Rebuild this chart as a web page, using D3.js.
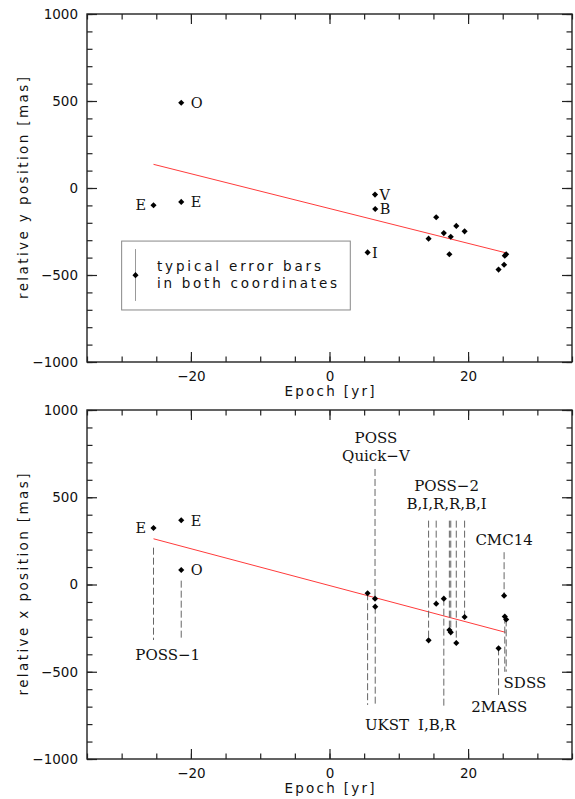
<!DOCTYPE html>
<html>
<head>
<meta charset="utf-8">
<script src="https://cdn.jsdelivr.net/npm/d3@7"></script>
<style>
  body { margin: 0; background: #fff; }
  svg text { font-family: "DejaVu Sans", sans-serif; fill: #111; }
  .lbl { font-family: "DejaVu Serif", serif; }
</style>
</head>
<body>
<div id="chart"></div>
<script>
// ------ DATA ------
// epoch of each observation (yr), shared by both panels
const epochs = [-25.4, -21.4, -21.4, 5.5, 6.57, 6.6, 14.3, 15.4, 16.5, 17.3, 17.5, 18.3, 19.5, 24.4, 25.2, 25.3, 25.5];
// relative y position (mas)
const yPos = [-99, -80, 490, -370, -38, -121, -291, -168, -259, -381, -280, -218, -249, -469, -441, -389, -381];
// relative x position (mas)
const xPos = [324, 368, 83, -50, -81, -127, -320, -110, -81, -261, -274, -335, -186, -366, -64, -184, -200];

// proper motion fit (end points)
const fitEpochs = [-25.4, 25.4];
const fitY = [136, -372];
const fitX = [262, -274];

// point labels: [text, index into epochs, side]
const yPointLabels = [['E', 0, 'left'], ['E', 1, 'right'], ['O', 2, 'right'], ['I', 3, 'near'], ['V', 4, 'near'], ['B', 5, 'near']];
const xPointLabels = [['E', 0, 'left'], ['E', 1, 'right'], ['O', 2, 'right']];

// survey names (bottom panel), anchored in data units
const surveyNames = ['POSS', 'Quick\u2212V', 'POSS\u22122', 'B,I,R,R,B,I', 'CMC14', 'SDSS', '2MASS', 'UKST', 'I,B,R', 'POSS\u22121'];
const surveyEpoch = [6.7, 6.7, 16.9, 16.9, 25.2, 28.2, 24.5, 8.3, 15.5, -23.35];
const surveyMas = [840, 736, 566, 465, 255, -563, -702, -801, -801, -404];

// dashed guide lines: epoch, from mas, to mas
const guideEpoch = [-25.4, -21.4, 6.57, 5.5, 6.6, 14.3, 15.4, 17.3, 17.5, 18.3, 19.5, 16.5, 25.2, 25.3, 25.5, 24.4];
const guideFrom = [211, 22, 662, -50, -127, 366, 366, 366, 366, 366, 366, -81, 185, -184, -200, -366];
const guideTo = [-318, -318, -81, -690, -690, -320, -110, -261, -274, -335, -186, -700, -64, -500, -500, -633];

// axis ticks
const xMajor = [-20, 0, 20];
const xMinor = d3.range(-35, 36, 5);
const yMajor = [-1000, -500, 0, 500, 1000];
const yMinor = d3.range(-1000, 1001, 100);

// ------ LAYOUT ------
const W = 575, H = 799;
const left = 87, right = 572;
const panels = [{top: 14, bottom: 362}, {top: 410, bottom: 759}];

const svg = d3.select('#chart').append('svg')
  .attr('width', W).attr('height', H);

const x = d3.scaleLinear().domain([-35, 35]).range([left, right]);

function diamond() { return d3.symbol(d3.symbolDiamond2, 24)(); }

function drawPanel(p, title, fitVals) {
  const y = d3.scaleLinear().domain([-1000, 1000]).range([p.bottom, p.top]);
  const g = svg.append('g');

  // ticks on all four sides, pointing inward
  const axes = [
    [d3.axisBottom(x), `translate(0,${p.bottom})`],
    [d3.axisTop(x), `translate(0,${p.top})`],
    [d3.axisLeft(y), `translate(${left},0)`],
    [d3.axisRight(y), `translate(${right},0)`]
  ];
  axes.forEach(function(a, i) {
    const isX = i < 2;
    const minor = g.append('g').attr('transform', a[1])
      .call(a[0].tickValues(isX ? xMinor : yMinor).tickSize(-5.5).tickFormat(''));
    minor.select('.domain').remove();
    const major = g.append('g').attr('transform', a[1])
      .call(a[0].tickValues(isX ? xMajor : yMajor).tickSize(-10)
        .tickPadding(9)
        .tickFormat((i === 0 || i === 2) ? (d => String(d).replace('-', '\u2212')) : ''));
    major.select('.domain').remove();
    major.selectAll('text').style('font-size', '13.5px').attr('fill', '#111');
  });
  g.selectAll('.tick line').attr('stroke', '#222').attr('stroke-width', 1.2);

  // frame
  g.append('rect')
    .attr('x', left).attr('y', p.top)
    .attr('width', right - left).attr('height', p.bottom - p.top)
    .attr('fill', 'none').attr('stroke', '#222').attr('stroke-width', 1.4);

  // axis titles
  g.append('text')
    .attr('x', (left + right) / 2).attr('y', p.bottom + 34)
    .attr('text-anchor', 'middle').style('font-size', '13.5px')
    .attr('textLength', 90).attr('lengthAdjust', 'spacing')
    .text('Epoch [yr]');
  g.append('text')
    .attr('transform', `translate(28,${(p.top + p.bottom) / 2}) rotate(-90)`)
    .attr('text-anchor', 'middle').style('font-size', '13.5px')
    .attr('textLength', 222).attr('lengthAdjust', 'spacing')
    .text(title);

  // fit line
  g.append('path')
    .datum(fitEpochs.map((e, i) => [e, fitVals[i]]))
    .attr('fill', 'none').attr('stroke', '#ff3b3b').attr('stroke-width', 1)
    .attr('d', d3.line().x(d => x(d[0])).y(d => y(d[1])));

  return {g: g, y: y};
}

function drawPoints(g, y, vals) {
  g.selectAll('.pt')
    .data(epochs.map((e, i) => [e, vals[i]]))
    .join('path')
      .attr('class', 'pt')
      .attr('d', diamond())
      .attr('fill', '#000')
      .attr('transform', d => `translate(${x(d[0])},${y(d[1])})`);
}

function drawPointLabels(g, y, vals, labels) {
  labels.forEach(function(l) {
    const px = x(epochs[l[1]]), py = y(vals[l[1]]);
    const dx = l[2] === 'left' ? -7.5 : (l[2] === 'right' ? 9.5 : 4.5);
    g.append('text')
      .attr('class', 'lbl')
      .attr('x', px + dx).attr('y', py)
      .attr('dy', '0.36em')
      .attr('text-anchor', l[2] === 'left' ? 'end' : 'start')
      .style('font-size', '14.5px')
      .text(l[0]);
  });
}

// ------ TOP PANEL ------
const topP = drawPanel(panels[0], 'relative y position [mas]', fitY);

// legend box for the typical error bar
const lg = topP.g.append('g');
lg.append('rect')
  .attr('x', x(-30)).attr('y', topP.y(-305))
  .attr('width', x(3) - x(-30)).attr('height', topP.y(-701) - topP.y(-305))
  .attr('fill', 'none').attr('stroke', '#888').attr('stroke-width', 1);
lg.append('line')
  .attr('x1', x(-28)).attr('x2', x(-28))
  .attr('y1', topP.y(-351)).attr('y2', topP.y(-649))
  .attr('stroke', '#999').attr('stroke-width', 1);
lg.append('path').attr('d', diamond()).attr('fill', '#000')
  .attr('transform', `translate(${x(-28)},${topP.y(-501)})`);
lg.append('text').attr('x', x(-24.9)).attr('y', topP.y(-501) - 4)
  .style('font-size', '13.5px').attr('textLength', 164).attr('lengthAdjust', 'spacing')
  .text('typical error bars');
lg.append('text').attr('x', x(-24.9)).attr('y', topP.y(-501) + 13)
  .style('font-size', '13.5px').attr('textLength', 180).attr('lengthAdjust', 'spacing')
  .text('in both coordinates');

drawPoints(topP.g, topP.y, yPos);
drawPointLabels(topP.g, topP.y, yPos, yPointLabels);

// ------ BOTTOM PANEL ------
const botP = drawPanel(panels[1], 'relative x position [mas]', fitX);

// dashed survey guides
botP.g.selectAll('.guide')
  .data(guideEpoch.map((e, i) => [e, guideFrom[i], guideTo[i]]))
  .join('line')
    .attr('class', 'guide')
    .attr('x1', d => x(d[0])).attr('x2', d => x(d[0]))
    .attr('y1', d => botP.y(d[1])).attr('y2', d => botP.y(d[2]))
    .attr('stroke', '#666').attr('stroke-width', 1)
    .attr('stroke-dasharray', '7,3');

drawPoints(botP.g, botP.y, xPos);
drawPointLabels(botP.g, botP.y, xPos, xPointLabels);

botP.g.selectAll('.survey')
  .data(surveyNames.map((n, i) => [n, surveyEpoch[i], surveyMas[i]]))
  .join('text')
    .attr('class', 'survey lbl')
    .attr('x', d => x(d[1])).attr('y', d => botP.y(d[2]))
    .attr('dy', '0.36em')
    .attr('text-anchor', 'middle')
    .style('font-size', '15px')
    .text(d => d[0]);
</script>
</body>
</html>
